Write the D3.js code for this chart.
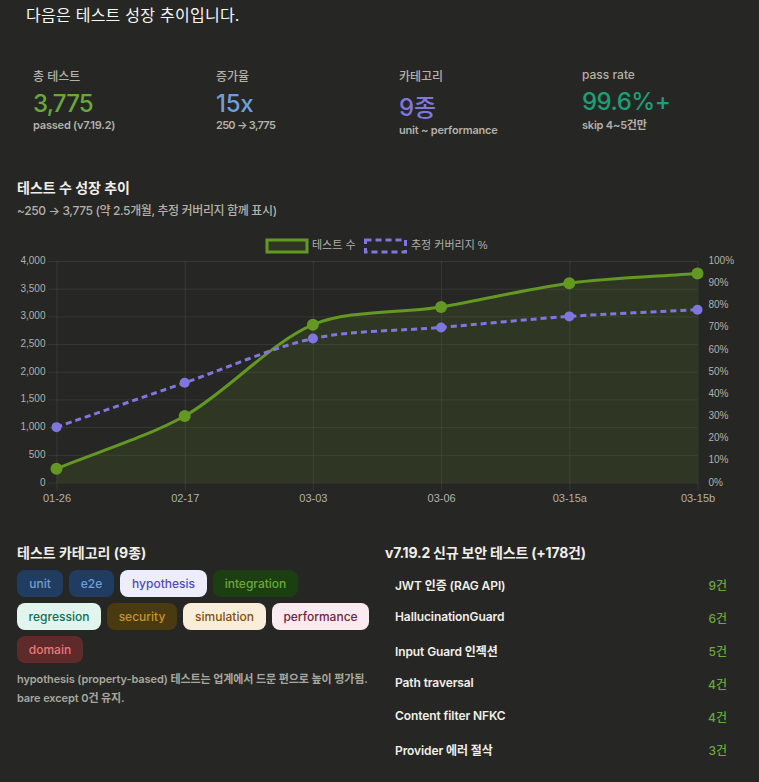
<!DOCTYPE html>
<html lang="ko">
<head>
<meta charset="utf-8">
<title>테스트 성장 추이</title>
<script src="https://cdn.jsdelivr.net/npm/d3@7"></script>
<style>
    html, body { margin: 0; padding: 0; background: #262625; }
    svg { display: block; }
    text { font-family: Inter, "Noto Sans CJK KR", sans-serif; }
    .chart text { font-family: "Liberation Sans", "Noto Sans CJK KR", sans-serif; }
</style>
</head>
<body>
<svg id="page" width="759" height="782"></svg>
<script>
// chart data
const dates = ["01-26", "02-17", "03-03", "03-06", "03-15a", "03-15b"];
const testCounts = [250, 1200, 2850, 3170, 3600, 3775];
const coverage = [25, 45, 65, 70, 75, 78];
const countTicks = [0, 500, 1000, 1500, 2000, 2500, 3000, 3500, 4000];
const coverageTicks = [0, 10, 20, 30, 40, 50, 60, 70, 80, 90, 100];
const legendLabels = ["테스트 수", "추정 커버리지 %"];

// summary cards
const statLabels = ["총 테스트", "증가율", "카테고리", "pass rate"];
const statValues = ["3,775", "15x", "9종", "99.6%+"];
const statSubs = ["passed (v7.19.2)", "250 → 3,775", "unit ~ performance", "skip 4~5건만"];

// bottom panels
const categories = ["unit", "e2e", "hypothesis", "integration", "regression", "security", "simulation", "performance", "domain"];
const securityNames = ["JWT 인증 (RAG API)", "HallucinationGuard", "Input Guard 인젝션", "Path traversal", "Content filter NFKC", "Provider 에러 절삭"];
const securityCounts = ["9건", "6건", "5건", "4건", "4건", "3건"];

const green = "#639922";
const purple = "#7f77dd";

const svg = d3.select("#page");

function label(x, y, str, size, fill, weight, anchor, spacing)
{
    return svg.append("text")
        .attr("x", x)
        .attr("y", y)
        .attr("font-size", size)
        .attr("font-weight", weight || 400)
        .attr("fill", fill)
        .attr("text-anchor", anchor || "start")
        .attr("letter-spacing", spacing || 0)
        .text(str);
}

// same bezier control points a tension spline gives, in pixel space
function splinePath(path, pts, tension)
{
    const ctrl = pts.map((p, i) => {
        const prev = pts[i - 1] || p, next = pts[i + 1] || p;
        const d01 = Math.hypot(p[0] - prev[0], p[1] - prev[1]);
        const d12 = Math.hypot(next[0] - p[0], next[1] - p[1]);
        const sum = d01 + d12;
        const fa = tension * d01 / sum, fb = tension * d12 / sum;
        return {
            in: [p[0] - fa * (next[0] - prev[0]), p[1] - fa * (next[1] - prev[1])],
            out: [p[0] + fb * (next[0] - prev[0]), p[1] + fb * (next[1] - prev[1])]
        };
    });
    path.moveTo(pts[0][0], pts[0][1]);
    for (let i = 1; i < pts.length; i++) {
        path.bezierCurveTo(ctrl[i - 1].out[0], ctrl[i - 1].out[1], ctrl[i].in[0], ctrl[i].in[1], pts[i][0], pts[i][1]);
    }
    return path;
}

// ---- header + cards
label(26, 21, "다음은 테스트 성장 추이입니다.", 16, "#faf9f5", 400, "start", 0.25);

const statX = [33, 216, 399, 582];
const statLabelY = [81, 81, 81, 79];
const statValueY = [112, 112, 116, 110];
const statSubY = [129, 129, 134, 129];
const statColors = ["#6aa83c", "#6f9fd8", "#7f77dd", "#1d9e75"];
const statValueSpacing = [-0.8, -0.3, 0, -0.5];
const statSubSpacing = [-0.2, -0.7, -0.2, -0.2];

statLabels.forEach((s, i) => {
    label(statX[i], statLabelY[i], s, 12, "#b3b1a8", 500);
    label(statX[i], statValueY[i], statValues[i], 24, statColors[i], 500, "start", statValueSpacing[i]);
    label(statX[i], statSubY[i], statSubs[i], 11, "#b3b1a8", 600, "start", statSubSpacing[i]);
});

label(17, 193, "테스트 수 성장 추이", 14, "#f0efe8", 700);
label(17, 215, "~250 → 3,775 (약 2.5개월, 추정 커버리지 함께 표시)", 12, "#b3b1a8", 500, "start", -0.37);

// ---- chart
const x = d3.scalePoint().domain(dates).range([56.5, 697.5]);
const yCount = d3.scaleLinear().domain([0, 4000]).range([482.5, 261]);
const yCover = d3.scaleLinear().domain([0, 100]).range([482.5, 261]);

const chart = svg.append("g").attr("class", "chart");
const gridColor = "rgba(255,255,255,0.08)";
const tickColor = "#b3b1a8";
const tension = 0.3;

const xAxis = chart.append("g")
    .attr("transform", "translate(0,482.5)")
    .call(d3.axisBottom(x).tickPadding(0));
xAxis.selectAll("line").attr("stroke", gridColor).attr("y2", 8).attr("y1", -221.5);
xAxis.selectAll("text").attr("font-size", 11).attr("fill", tickColor).attr("y", 15.5).attr("dy", "0.35em");

const yAxisLeft = chart.append("g")
    .attr("transform", "translate(56.5,0)")
    .call(d3.axisLeft(yCount).tickValues(countTicks).tickFormat(d3.format(",")));
yAxisLeft.selectAll("line").attr("stroke", gridColor).attr("x1", -8).attr("x2", 641);
yAxisLeft.selectAll("text").attr("font-size", 10).attr("fill", tickColor).attr("x", -11).attr("dy", "0.25em");

const yAxisRight = chart.append("g")
    .attr("transform", "translate(697.5,0)")
    .call(d3.axisRight(yCover).tickValues(coverageTicks).tickFormat(d => d + "%").tickSize(0));
yAxisRight.selectAll("text").attr("font-size", 10).attr("fill", tickColor).attr("x", 11).attr("dy", "0.25em");

chart.selectAll(".domain").attr("stroke", "none");

const countPts = testCounts.map((v, i) => [x(dates[i]), yCount(v)]);
const coverPts = coverage.map((v, i) => [x(dates[i]), yCover(v)]);

const areaPath = splinePath(d3.path(), countPts, tension);
areaPath.lineTo(countPts[countPts.length - 1][0], yCount(0));
areaPath.lineTo(countPts[0][0], yCount(0));
areaPath.closePath();
chart.append("path").attr("d", areaPath.toString()).attr("fill", green).attr("fill-opacity", 0.15);

chart.append("path")
    .attr("d", splinePath(d3.path(), countPts, tension).toString())
    .attr("fill", "none").attr("stroke", green).attr("stroke-width", 3);

chart.append("path")
    .attr("d", splinePath(d3.path(), coverPts, tension).toString())
    .attr("fill", "none").attr("stroke", purple).attr("stroke-width", 3).attr("stroke-dasharray", "6 4");

chart.append("g").selectAll("circle").data(countPts).enter().append("circle")
    .attr("cx", d => d[0]).attr("cy", d => d[1]).attr("r", 6).attr("fill", green);
chart.append("g").selectAll("circle").data(coverPts).enter().append("circle")
    .attr("cx", d => d[0]).attr("cy", d => d[1]).attr("r", 5).attr("fill", purple);

// legend
const legendBoxX = [267, 365.5];
const legendTextX = [312, 411];
const legendStyle = [
    { stroke: green, fill: "rgba(99,153,34,0.15)", dash: null },
    { stroke: purple, fill: "none", dash: "6 4" }
];
legendLabels.forEach((s, i) => {
    chart.append("rect")
        .attr("x", legendBoxX[i]).attr("y", 240)
        .attr("width", 40).attr("height", 12)
        .attr("fill", legendStyle[i].fill)
        .attr("stroke", legendStyle[i].stroke)
        .attr("stroke-width", 3)
        .attr("stroke-dasharray", legendStyle[i].dash);
    chart.append("text")
        .attr("x", legendTextX[i]).attr("y", 249)
        .attr("font-size", 11).attr("fill", tickColor)
        .text(s);
});

// ---- category pills
label(17, 558, "테스트 카테고리 (9종)", 14, "#f0efe8", 700);

const pillBg = ["#203c60", "#203c60", "#eeedfe", "#1c3f12", "#e1f5ee", "#4a3a10", "#faeeda", "#fbeaf0", "#5f2a2a"];
const pillFg = ["#6f9fd8", "#6f9fd8", "#534ab7", "#6aa83c", "#0f6e56", "#c8922e", "#854f0b", "#72243e", "#e87a7a"];
const pillX = [17, 69, 120, 213, 17, 107, 183, 272, 17];
const pillW = [46, 45, 87, 85, 84, 70, 83, 97, 66];
const pillY = [570, 570, 570, 570, 603, 603, 603, 603, 636];

categories.forEach((c, i) => {
    svg.append("rect")
        .attr("x", pillX[i]).attr("y", pillY[i])
        .attr("width", pillW[i]).attr("height", 27)
        .attr("rx", 8)
        .attr("fill", pillBg[i]);
    label(pillX[i] + pillW[i] / 2, pillY[i] + 18, c, 12, pillFg[i], 500, "middle");
});

label(17, 683, "hypothesis (property-based) 테스트는 업계에서 드문 편으로 높이 평가됨.", 11, "#a8a69e", 600, "start", -0.1);
label(17, 702, "bare except 0건 유지.", 11, "#a8a69e", 600, "start", -0.1);

// ---- security table
label(385, 558, "v7.19.2 신규 보안 테스트 (+178건)", 14, "#f0efe8", 700, "start", -0.2);

const nameY = [590, 621, 656, 687, 720, 755];
const countY = [590, 623, 656, 689, 722, 755];
securityNames.forEach((s, i) => {
    label(395, nameY[i], s, 12, "#f0efe8", 600, "start", -0.1);
    label(727, countY[i], securityCounts[i], 12, "#6aa83c", 500, "end");
});
</script>
</body>
</html>
